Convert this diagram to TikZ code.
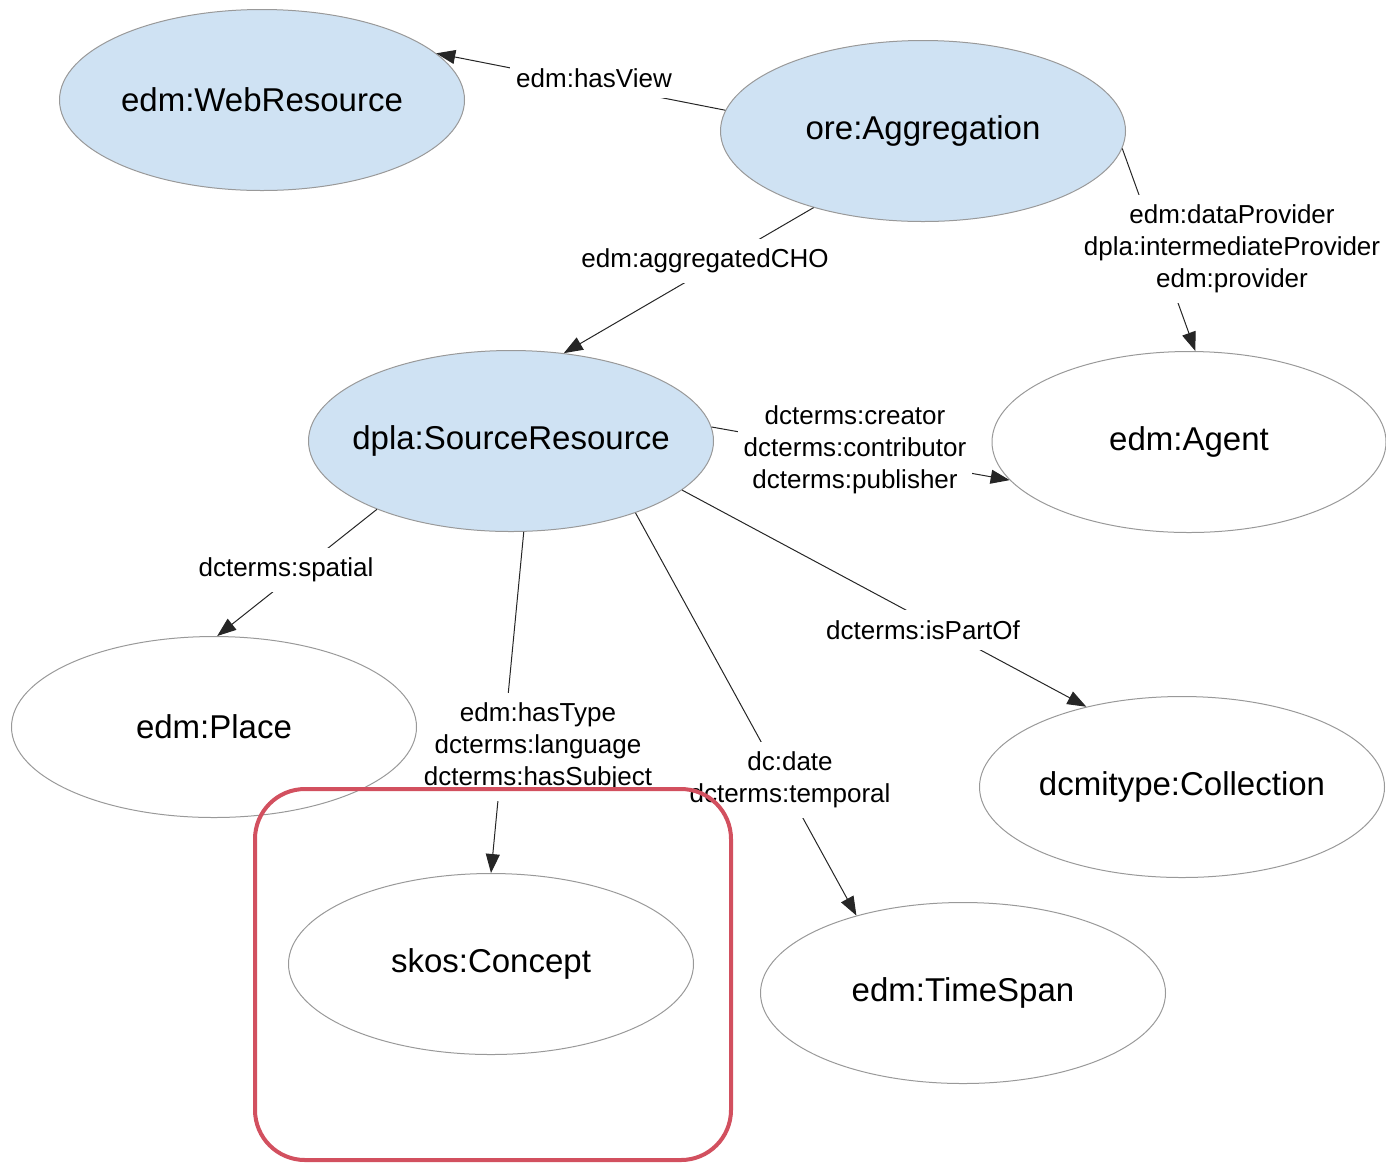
\documentclass[tikz,border=0pt]{standalone}
\usepackage{fontspec}
\setmainfont{Liberation Sans}
\usetikzlibrary{arrows.meta,shapes.geometric}

\definecolor{classblue}{HTML}{CFE2F3}
\definecolor{classline}{HTML}{999999}
\definecolor{markred}{HTML}{D2505F}

\tikzset{
  cls/.style={ellipse, draw=classline, line width=0.5pt, inner sep=0pt,
    minimum width=202.5pt, minimum height=90.5pt,
    font=\fontsize{16.5}{20}\selectfont},
  core/.style={cls, fill=classblue},
  prop/.style={draw=black!85, line width=0.5pt, -{Triangle[length=9.5pt,width=7pt]}},
  lbl/.style={fill=white, inner xsep=3pt, inner ysep=5pt, align=center,
    font=\fontsize{13}{16}\selectfont}
}

\begin{document}
\begin{tikzpicture}[x=0.5pt,y=-0.5pt]
\useasboundingbox (0,0) rectangle (1386,1164);

% classes
\draw (262,100)  node (web)  [core] {edm:WebResource};
\draw (923,131)  node (agg)  [core] {ore:Aggregation};
\draw (511,441)  node (src)  [core, inner sep=-8pt] {dpla:SourceResource};
\draw (1189,442) node (agent) [cls, minimum width=197pt] {edm:Agent};
\draw (214,727)  node (place) [cls] {edm:Place};
\draw (1182,787) node (coll) [cls] {dcmitype:Collection};
\draw (491,964)  node (concept) [cls] {skos:Concept};
\draw (963,993)  node (time) [cls] {edm:TimeSpan};

% properties
\draw[prop] (agg.174)   -- (web.15.5);
\draw[prop] (agg.215)   -- (src.59);
\draw[prop] (agg.355)   -- (agent.86);
\draw[prop] (src.4.6)   -- (agent.192);
\draw[prop] (src.207.6) -- (place.88);
\draw[prop] (src.278)   -- (concept.90);
\draw[prop] (src.330.4) -- (time.144.7);
\draw[prop] (src.344.5) -- (coll.140.3);

% property labels
\draw (594,78)   node (hasview)  [lbl] {edm:hasView};
\draw (705,261)  node (aggcho)   [lbl] {edm:aggregatedCHO};
\draw (1232,249) node (provider) [lbl] {edm:dataProvider\\dpla:intermediateProvider\\edm:provider};
\draw (855,450)  node (creator)  [lbl] {dcterms:creator\\dcterms:contributor\\dcterms:publisher};
\draw (286,570)  node (spatial)  [lbl] {dcterms:spatial};
\draw (538,747)  node (hastype)  [lbl] {edm:hasType\\dcterms:language\\dcterms:hasSubject};
\draw (790,780)  node (date)     [lbl] {dc:date\\dcterms:temporal};
\draw (923,630)  node (partof)   [lbl] {dcterms:isPartOf};

% highlight
\draw[markred, line width=2pt, rounded corners=25pt] (255,789) rectangle (731,1160);
\end{tikzpicture}
\end{document}
